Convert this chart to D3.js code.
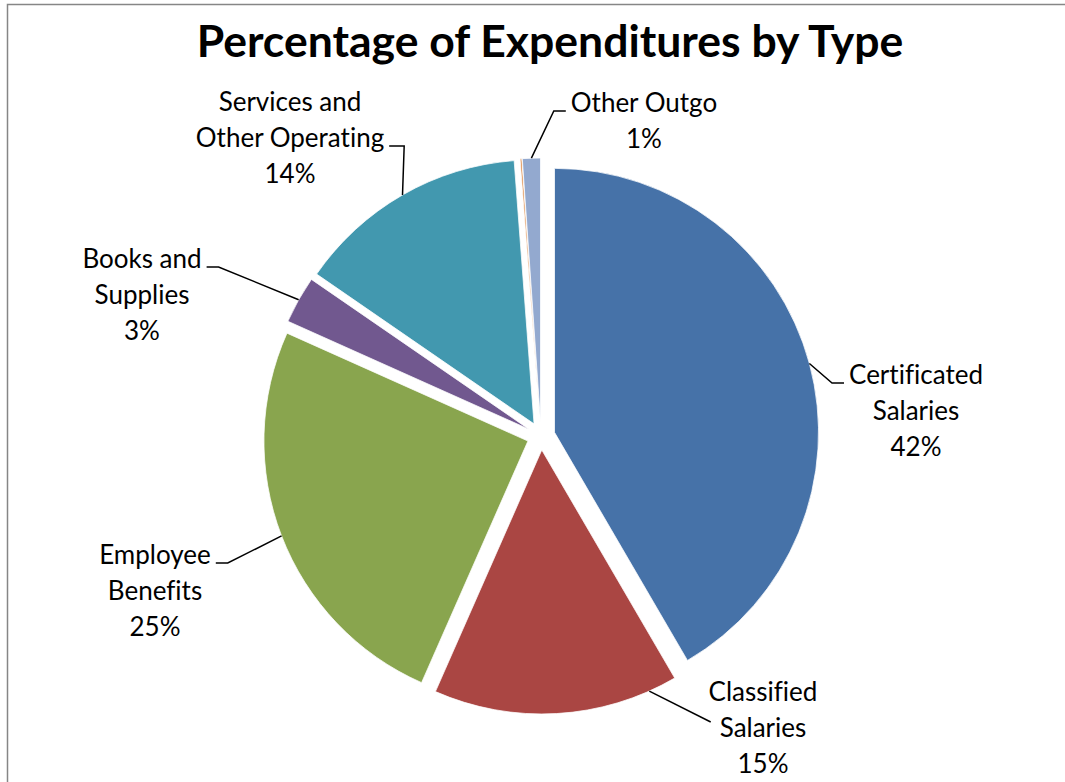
<!DOCTYPE html>
<html>
<head>
<meta charset="utf-8">
<script src="https://cdn.jsdelivr.net/npm/d3@7"></script>
<style>
  body { margin: 0; background: #fff; }
  text { font-family: Lato, "Open Sans", sans-serif; fill: #000; font-variant-ligatures: none; }
</style>
</head>
<body>
<div id="chart"></div>
<script>
// Data (percent of total)
const categories = ["Certificated\nSalaries", "Classified\nSalaries", "Employee\nBenefits",
    "Books and\nSupplies", "Services and\nOther Operating", "Capital Outlay", "Other Outgo"];
const values = [41.6, 15.0, 25.1, 2.9, 14.2, 0.1, 1.1];
const colors = ["#4672A8", "#AA4643", "#89A54E", "#71588F", "#4298AF", "#DB843D", "#93A9CF"];

// label layout: text block centre (x, first line centre y), where the leader meets the text
const labelLayout = [
    { x: 916, y: 375, line: 0, side: "left", hook: 12, t: 0.5 },
    { x: 763, y: 692, line: 1, side: "left", hook: 0, t: 0.115 },
    { x: 155, y: 555, line: 0, side: "right", hook: 12, t: 0.5 },
    { x: 142, y: 259, line: 0, side: "right", hook: 12, t: 0.5 },
    { x: 290, y: 102, line: 1, side: "right", hook: 15, t: 0.5 },
    null,
    { x: 644, y: 103, line: 0, side: "left", hook: 12, t: 0.5 }
];

const width = 1065, height = 782;
const cx = 541, cy = 436, radius = 264, explode = 14;
const lineHeight = 36;

const svg = d3.select("#chart").append("svg")
    .attr("width", width)
    .attr("height", height);

// chart border (cropped on the right and bottom)
svg.append("rect")
    .attr("x", 7.5).attr("y", 4.5)
    .attr("width", width + 20).attr("height", height + 20)
    .attr("fill", "none")
    .attr("stroke", "#868686")
    .attr("stroke-width", 1.5);

svg.append("text")
    .attr("x", 550)
    .attr("y", 57)
    .attr("text-anchor", "middle")
    .style("font-size", "44.5px")
    .style("font-weight", "bold")
    .text("Percentage of Expenditures by Type");

const pie = d3.pie().sort(null).value(d => d);
const arcs = pie(values);

const arc = d3.arc().innerRadius(0).outerRadius(radius);
const unit = d3.arc().innerRadius(1).outerRadius(1);
const rimArc = d3.arc().innerRadius(radius).outerRadius(radius);

function offset(d) {
    const mid = (d.startAngle + d.endAngle) / 2;
    const p = unit.centroid({ startAngle: mid, endAngle: mid });
    return [cx + p[0] * explode, cy + p[1] * explode];
}

const g = svg.append("g");

g.selectAll("path")
    .data(arcs)
    .join("path")
    .attr("transform", d => `translate(${offset(d)})`)
    .attr("d", arc)
    .attr("fill", (d, i) => colors[i])
    .attr("stroke", "#fff")
    .attr("stroke-width", 0.75);

// labels and leader lines
const labels = svg.append("g");

arcs.forEach((d, i) => {
    const lay = labelLayout[i];
    if (!lay) return;
    const lines = categories[i].split("\n").concat([Math.round(values[i]) + "%"]);

    const txt = labels.append("text")
        .attr("text-anchor", "middle")
        .style("font-size", "26px");
    const spans = lines.map((s, k) => txt.append("tspan")
        .attr("x", lay.x)
        .attr("y", lay.y + k * lineHeight)
        .attr("dy", "0.35em")
        .text(s));

    // where the leader ends at the text
    const w = spans[lay.line].node().getComputedTextLength();
    const ly = lay.y + lay.line * lineHeight;
    let end, elbow;
    if (lay.hook > 0) {
        end = lay.side === "left" ? [lay.x - w / 2 - 5, ly + 8] : [lay.x + w / 2 + 5, ly + 8];
        elbow = lay.side === "left" ? [end[0] - lay.hook, end[1]] : [end[0] + lay.hook, end[1]];
    } else {
        end = [lay.x - w / 2 - 9, ly - 6];
        elbow = end;
    }

    const a = d.startAngle + lay.t * (d.endAngle - d.startAngle);
    const o = offset(d);
    const rim = rimArc.centroid({ startAngle: a, endAngle: a });
    const start = [o[0] + rim[0], o[1] + rim[1]];

    labels.append("path")
        .attr("d", d3.line()([start, elbow, end]))
        .attr("fill", "none")
        .attr("stroke", "#000")
        .attr("stroke-width", 1.5);
});
</script>
</body>
</html>
